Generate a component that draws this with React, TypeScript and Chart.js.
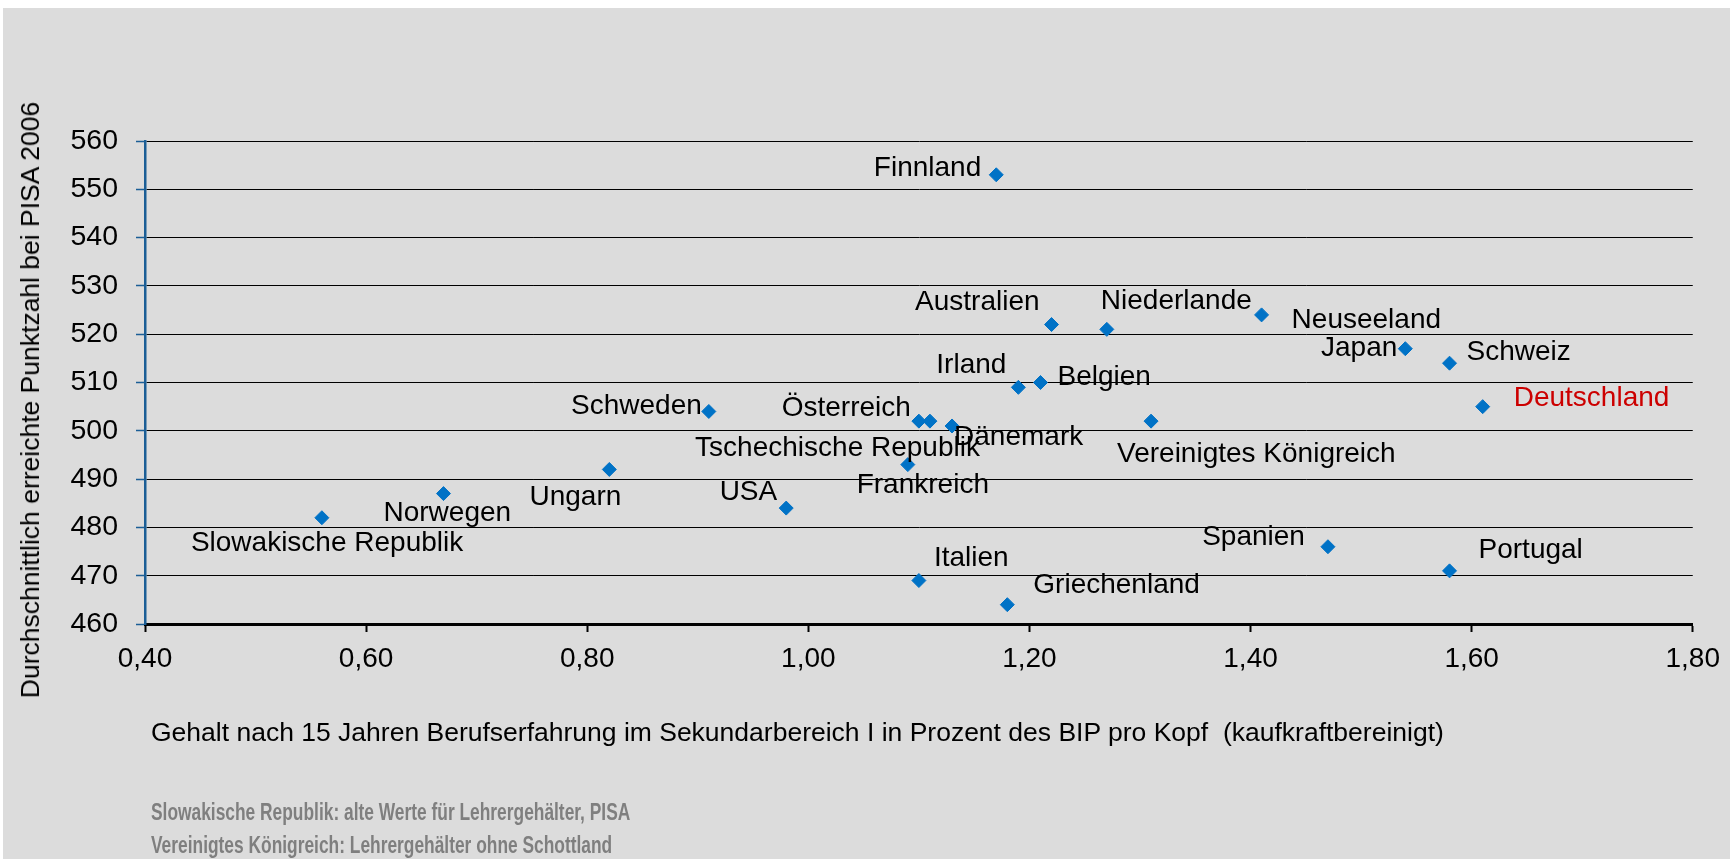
import React, { useEffect, useRef } from "react";
import { Chart, registerables } from "chart.js";

Chart.register(...registerables);

// ---- data ----
const countries = [
  "Slowakische Republik",
  "Norwegen",
  "Ungarn",
  "Schweden",
  "USA",
  "Frankreich",
  "Österreich",
  "Tschechische Republik",
  "Dänemark",
  "Finnland",
  "Irland",
  "Griechenland",
  "Belgien",
  "Australien",
  "Italien",
  "Niederlande",
  "Vereinigtes Königreich",
  "Neuseeland",
  "Spanien",
  "Japan",
  "Schweiz",
  "Portugal",
  "Deutschland",
];
const salaryRatio = [
  0.56, 0.67, 0.82, 0.91, 0.98, 1.09, 1.1, 1.11, 1.13, 1.17, 1.19, 1.18, 1.21,
  1.22, 1.1, 1.27, 1.31, 1.41, 1.47, 1.54, 1.58, 1.58, 1.61,
];
const pisaScore = [
  482, 487, 492, 504, 484, 493, 502, 502, 501, 553, 509, 464, 510, 522, 469,
  521, 502, 524, 476, 517, 514, 471, 505,
];
const highlightCountry = "Deutschland";

const yTitle = "Durchschnittlich erreichte Punktzahl bei PISA 2006";
const xTitle =
  "Gehalt nach 15 Jahren Berufserfahrung im Sekundarbereich I in Prozent des BIP pro Kopf  (kaufkraftbereinigt)";
const footnotes = [
  "Slowakische Republik: alte Werte für Lehrergehälter, PISA",
  "Vereinigtes Königreich: Lehrergehälter ohne Schottland",
];

// ---- label placement (pixels relative to the point) ----
type Place = { dx: number; dy: number; align: CanvasTextAlign };
const labelPlacement: Record<string, Place> = {
  "Slowakische Republik": { dx: -131, dy: 24, align: "left" },
  Norwegen: { dx: -60, dy: 18, align: "left" },
  Ungarn: { dx: 12, dy: 26, align: "right" },
  Schweden: { dx: -7, dy: -7, align: "right" },
  USA: { dx: -9, dy: -18, align: "right" },
  Frankreich: { dx: 15, dy: 19, align: "center" },
  Österreich: { dx: -8, dy: -15, align: "right" },
  "Tschechische Republik": { dx: 50, dy: 25, align: "right" },
  Dänemark: { dx: 2, dy: 9, align: "left" },
  Finnland: { dx: -15, dy: -9, align: "right" },
  Irland: { dx: -12, dy: -24, align: "right" },
  Griechenland: { dx: 26, dy: -21, align: "left" },
  Belgien: { dx: 17, dy: -7, align: "left" },
  Australien: { dx: -12, dy: -24, align: "right" },
  Italien: { dx: 15, dy: -24, align: "left" },
  Niederlande: { dx: -6, dy: -30, align: "left" },
  "Vereinigtes Königreich": { dx: -34, dy: 31, align: "left" },
  Neuseeland: { dx: 30, dy: 3, align: "left" },
  Spanien: { dx: -23, dy: -11, align: "right" },
  Japan: { dx: -8, dy: -2, align: "right" },
  Schweiz: { dx: 17, dy: -13, align: "left" },
  Portugal: { dx: 29, dy: -23, align: "left" },
  Deutschland: { dx: 31, dy: -10, align: "left" },
};

const FONT = "'Liberation Sans', Arial, sans-serif";

const pointLabelPlugin = {
  id: "pointLabels",
  afterDatasetsDraw(chart: any) {
    const meta = chart.getDatasetMeta(0);
    const ctx = chart.ctx;
    ctx.save();
    ctx.font = `28px ${FONT}`;
    ctx.textBaseline = "middle";
    meta.data.forEach((el: any, i: number) => {
      const name = countries[i];
      const p = labelPlacement[name] || { dx: 10, dy: -10, align: "left" };
      ctx.fillStyle = name === highlightCountry ? "#cc0000" : "#000000";
      ctx.textAlign = p.align;
      ctx.fillText(name, el.x + p.dx, el.y + p.dy + 2);
    });
    ctx.restore();
  },
};

export default function App() {
  const canvasRef = useRef<HTMLCanvasElement | null>(null);

  useEffect(() => {
    if (!canvasRef.current) return;
    const chart = new Chart(canvasRef.current, {
      type: "scatter",
      data: {
        datasets: [
          {
            label: "Länder",
            data: salaryRatio.map((x, i) => ({ x, y: pisaScore[i] })),
            pointStyle: "rectRot",
            pointRadius: 7,
            pointHoverRadius: 7,
            backgroundColor: "#0072c6",
            borderColor: "#0072c6",
            borderWidth: 1,
          },
        ],
      },
      options: {
        responsive: false,
        animation: false,
        events: [],
        layout: { padding: { left: 0, top: 133, right: 37, bottom: 0 } },
        plugins: {
          legend: { display: false },
          tooltip: { enabled: false },
        },
        scales: {
          x: {
            type: "linear",
            min: 0.4,
            max: 1.8,
            afterFit: (s: any) => {
              s.height = 235;
            },
            ticks: {
              stepSize: 0.2,
              color: "#000",
              padding: 10,
              font: { family: FONT, size: 28 },
              callback: (v: any) => Number(v).toFixed(2).replace(".", ","),
            },
            grid: {
              drawOnChartArea: false,
              drawTicks: true,
              tickLength: 8,
              tickColor: "#000",
              tickWidth: 2,
            },
            border: { display: true, color: "#000", width: 3 },
          },
          y: {
            type: "linear",
            min: 460,
            max: 560,
            afterFit: (s: any) => {
              s.width = 142;
            },
            ticks: {
              stepSize: 10,
              color: "#000",
              padding: 18,
              font: { family: FONT, size: 28.5 },
            },
            grid: {
              color: "#000",
              lineWidth: 1,
              tickLength: 9,
              tickColor: "#1b5e96",
              tickWidth: 1.5,
            },
            border: { display: true, color: "#1b5e96", width: 2.5 },
          },
        },
      },
      plugins: [pointLabelPlugin],
    });
    return () => chart.destroy();
  }, []);

  return (
    <div
      style={{
        position: "absolute",
        left: 3,
        top: 8,
        width: 1727,
        height: 851,
        background: "#dcdcdc",
        overflow: "hidden",
        fontFamily: FONT,
      }}
    >
      <canvas
        ref={canvasRef}
        width={1727}
        height={851}
        style={{ position: "absolute", left: 0, top: 0 }}
      />
      <div
        style={{
          position: "absolute",
          left: 27,
          top: 391.5,
          transform: "translate(-50%, -50%) rotate(-90deg)",
          whiteSpace: "nowrap",
          fontSize: 26.5,
          lineHeight: "30px",
          color: "#000",
        }}
      >
        {yTitle}
      </div>
      <div
        style={{
          position: "absolute",
          left: 148,
          top: 708.5,
          whiteSpace: "pre",
          fontSize: 26.5,
          lineHeight: "30px",
          color: "#000",
        }}
      >
        {xTitle}
      </div>
      {footnotes.map((t, i) => (
        <div
          key={i}
          style={{
            position: "absolute",
            left: 148,
            top: 804 + i * 33 - 14,
            whiteSpace: "nowrap",
            fontSize: 23,
            lineHeight: "28px",
            fontWeight: "bold",
            transform: "scaleX(0.755)",
            transformOrigin: "left center",
            color: "#7f7f7f",
          }}
        >
          {t}
        </div>
      ))}
    </div>
  );
}
